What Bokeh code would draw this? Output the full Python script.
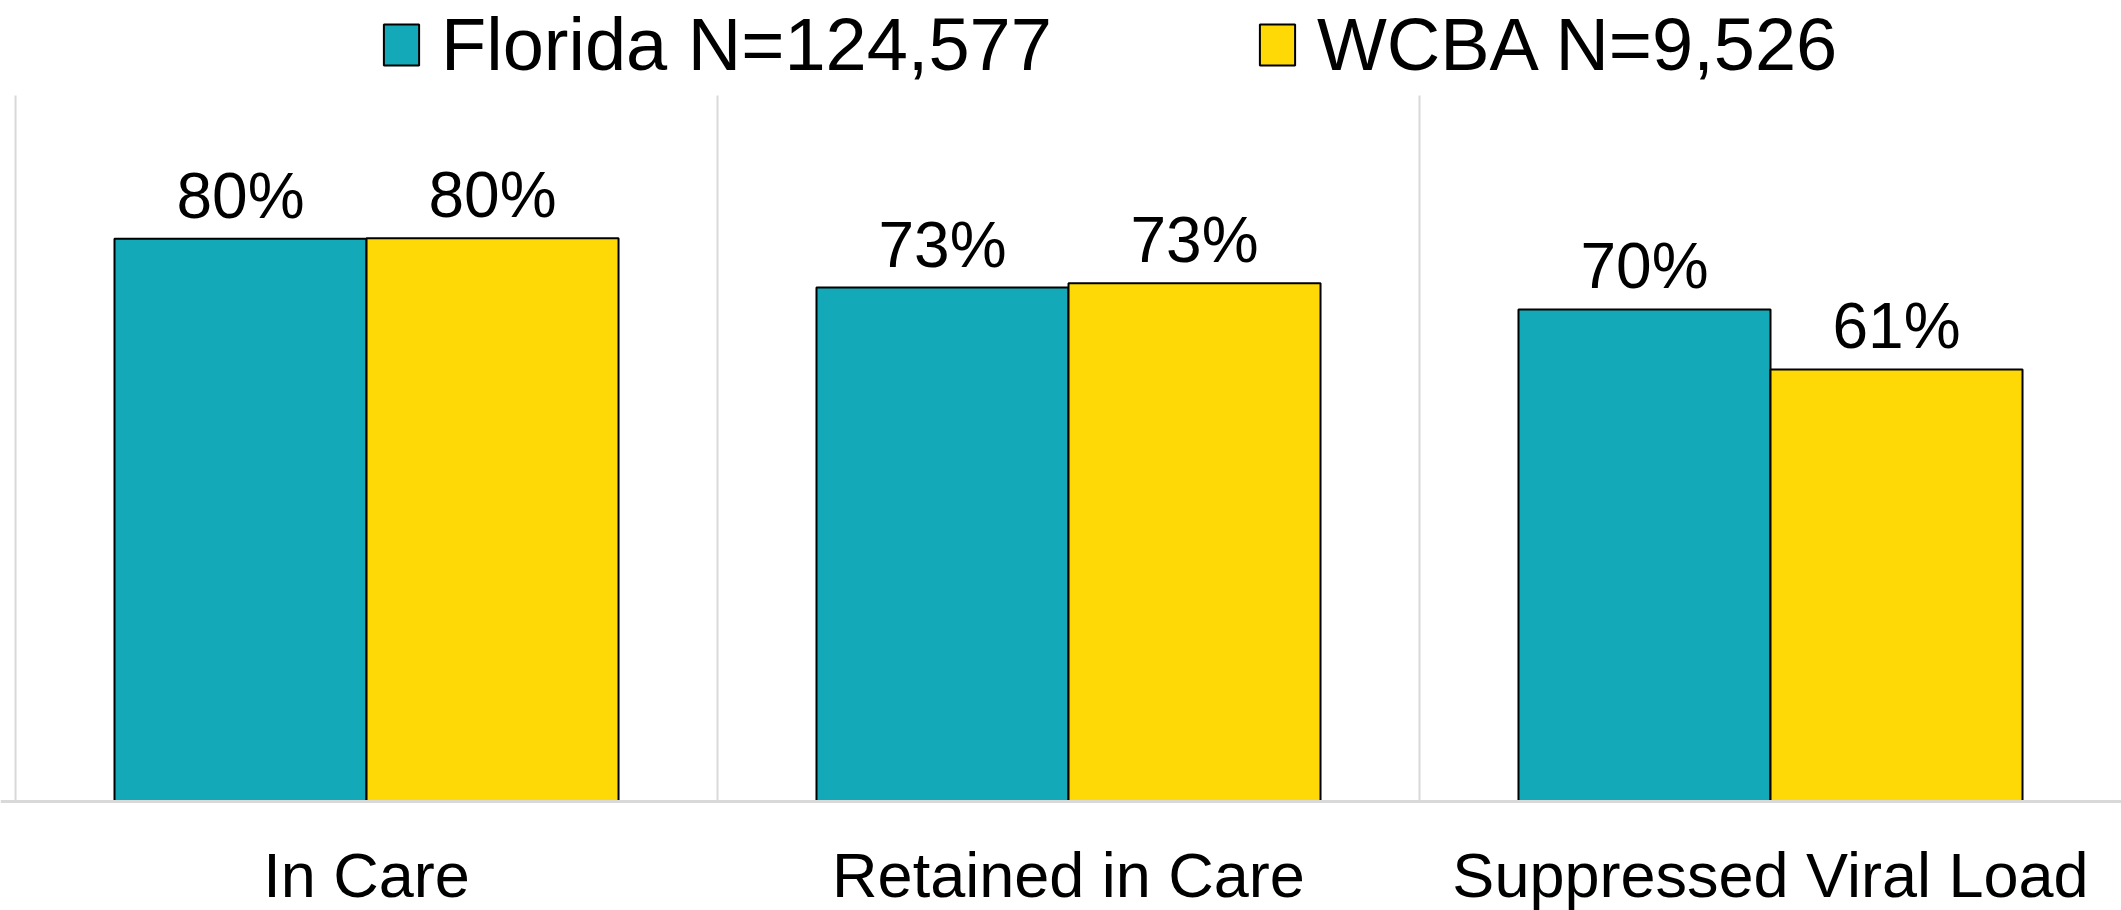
from bokeh.plotting import figure
from bokeh.models import (ColumnDataSource, Range1d, LabelSet,
                          Legend, LegendItem, Span)
from bokeh.core.properties import value
from bokeh.embed import file_html
from bokeh.resources import INLINE

categories = ["In Care", "Retained in Care", "Suppressed Viral Load"]
series_names = ["Florida N=124,577", "WCBA N=9,526"]
florida = [0.797, 0.728, 0.697]
wcba = [0.798, 0.734, 0.612]
colors = ["#14A9B8", "#FFD905"]

FONT = "Arial"
W, H = 2121, 910
bar_w = 0.359
n = len(categories)
centers = [i + 0.5 for i in range(n)]

# the frame covers the whole canvas; ranges are padded so that the
# value axis 0..1 occupies the same place as in the original chart
p = figure(width=W, height=H, output_backend="svg", toolbar_location=None,
           x_range=Range1d(-0.0214, 3.0), y_range=Range1d(-0.1544, 1.1346),
           min_border=0)
p.outline_line_color = None
p.xaxis.visible = False
p.yaxis.visible = False
p.xgrid.visible = False
p.ygrid.visible = False

# category separators (vertical grid lines) from 0 to 100%
p.segment(x0=list(range(n)), y0=[0] * n, x1=list(range(n)), y1=[1.0] * n,
          line_color="#d9d9d9", line_width=2)

# baseline
p.add_layout(Span(location=0, dimension="width", line_color="#d9d9d9",
                  line_width=3))

renderers = []
for k, (vals, col) in enumerate(zip([florida, wcba], colors)):
    off = (k - 0.5) * bar_w
    src = ColumnDataSource(dict(
        x=[c + off for c in centers],
        top=vals,
        label=[f"{round(v * 100):.0f}%" for v in vals],
    ))
    r = p.vbar(x="x", top="top", bottom=0, width=bar_w, source=src,
               fill_color=col, line_color="black", line_width=2)
    renderers.append(r)
    p.add_layout(LabelSet(x="x", y="top", text="label", source=src, y_offset=21,
                          text_align="center", text_baseline="alphabetic",
                          text_font=value(FONT), text_font_size=value("64px"),
                          text_color="black"))

cat_src = ColumnDataSource(dict(x=centers, y=[0] * n, text=categories))
p.add_layout(LabelSet(x="x", y="y", text="text", source=cat_src, y_offset=-96,
                      text_align="center", text_baseline="alphabetic",
                      text_font=value(FONT), text_font_size=value("63px"),
                      text_color="black"))

legend = Legend(items=[LegendItem(label=s, renderers=[r])
                       for s, r in zip(series_names, renderers)],
                location=(379, 823), orientation="horizontal",
                label_text_font=FONT, label_text_font_size="74px",
                label_text_color="black",
                glyph_width=44, glyph_height=51, label_standoff=18,
                spacing=203, padding=0, margin=0,
                border_line_color=None, background_fill_alpha=0)
p.add_layout(legend)

open("out.html", "w").write(file_html(p, INLINE))
